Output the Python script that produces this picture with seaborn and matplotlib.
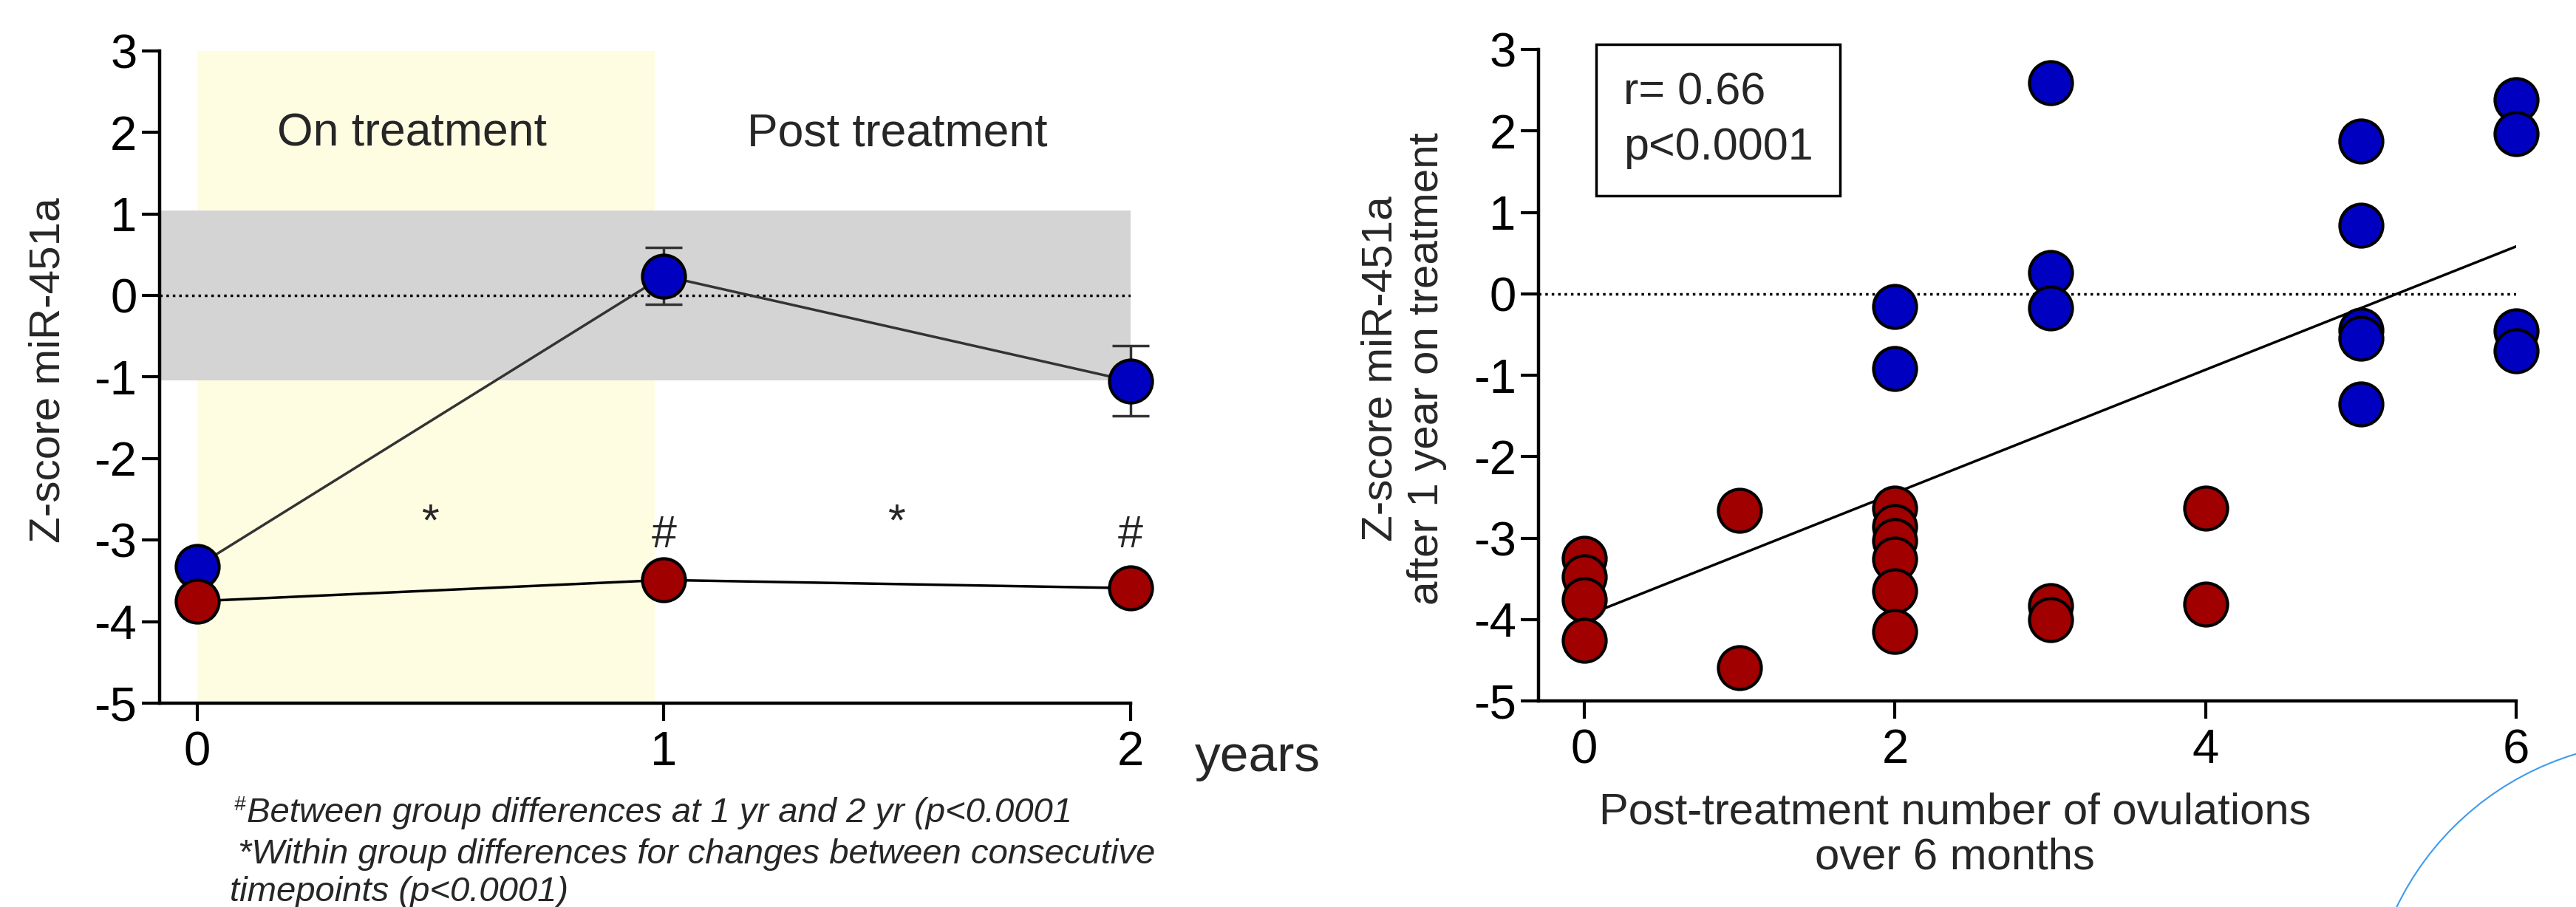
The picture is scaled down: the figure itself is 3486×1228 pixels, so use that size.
import numpy as np
import pandas as pd
import matplotlib
matplotlib.use("Agg")
import matplotlib.pyplot as plt
from matplotlib import font_manager
from matplotlib.patches import Circle
import seaborn as sns

# left panel: group means over time
years = [0, 1, 2]
blue_mean = [-3.32, 0.24, -1.05]
blue_err = [0.0, 0.35, 0.43]
red_mean = [-3.75, -3.49, -3.59]
ref_band = (-1.04, 1.04)
on_treatment = (0, 0.98)
star_x = [0.5, 1.5]
hash_x = [1, 2]

# right panel: individual values
ovul_blue = [2, 2, 3, 3, 3, 5, 5, 5, 5, 5, 6, 6, 6, 6]
z_blue = [-0.16, -0.92, 2.59, 0.26, -0.17, 1.88, 0.84, -0.45, -0.55, -1.35, 2.38, 1.97, -0.46, -0.70]
ovul_red = [0, 0, 0, 0, 1, 1, 2, 2, 2, 2, 2, 2, 3, 3, 4, 4]
z_red = [-3.25, -3.48, -3.76, -4.26, -2.66, -4.59, -2.63, -2.86, -3.03, -3.26, -3.65, -4.15,
         -3.83, -4.00, -2.63, -3.81]

BLUE = "#0000c0"
RED = "#a00000"

sns.set_style("ticks")
names = {f.name for f in font_manager.fontManager.ttflist}
narrow = "Liberation Sans Narrow" if "Liberation Sans Narrow" in names else "Liberation Sans"
plt.rcParams["font.family"] = [narrow, "DejaVu Sans"]
plt.rcParams["axes.unicode_minus"] = False

fig = plt.figure(figsize=(34.87, 12.28), dpi=100)
ax1 = fig.add_axes([0.0619, 0.2248, 0.3768, 0.7191])
ax2 = fig.add_axes([0.5971, 0.2272, 0.3794, 0.7182])

for ax in (ax1, ax2):
    sns.despine(ax=ax)
    for s in ("left", "bottom"):
        ax.spines[s].set_linewidth(3.2)
        ax.spines[s].set_color("black")
    ax.tick_params(width=3, length=17, labelsize=47, colors="black", pad=5)
    ax.tick_params(axis="x", pad=10)
    ax.set_ylim(-5, 3)
    ax.set_yticks(range(-5, 4))

# ---- left panel
ax1.axvspan(*on_treatment, color="#fffde1", zorder=0, lw=0)
ax1.axhspan(*ref_band, color="#d4d4d4", zorder=1, lw=0)
ax1.axhline(0, color="black", ls=(0, (1, 1.5)), lw=2.5, zorder=2)

df_left = pd.DataFrame({"year": years, "blue": blue_mean, "red": red_mean})
ax1.errorbar(years, blue_mean, yerr=blue_err, fmt="none", ecolor="#333333",
             elinewidth=2.5, capsize=18, capthick=2.5, zorder=3, clip_on=False)
sns.lineplot(data=df_left, x="year", y="blue", color="#333333", lw=2.5, ax=ax1, zorder=3)
sns.lineplot(data=df_left, x="year", y="red", color="black", lw=2.5, ax=ax1, zorder=3)
sns.scatterplot(data=df_left, x="year", y="blue", color=BLUE, s=1750, edgecolor="black",
                linewidth=3, ax=ax1, zorder=5, clip_on=False)
sns.scatterplot(data=df_left, x="year", y="red", color=RED, s=1750, edgecolor="black",
                linewidth=3, ax=ax1, zorder=5, clip_on=False)

for x in star_x:
    ax1.text(x, -2.8, "*", ha="center", va="center", fontsize=44)
for x in hash_x:
    ax1.text(x, -2.95, "#", ha="center", va="center", fontsize=44)
ax1.text(0.46, 1.98, "On treatment", ha="center", va="center", fontsize=45)
ax1.text(1.5, 1.98, "Post treatment", ha="center", va="center", fontsize=45)

ax1.set_xlim(-0.081, 2.0)
ax1.set_xticks(years)
ax1.set_xlabel("")
ax1.set_ylabel("Z-score miR-451a", fontsize=42, family=["Liberation Sans", "DejaVu Sans"])
ax1.yaxis.set_label_coords(-0.094, 0.51)
fig.text(1617 / 3487, 1 - 1026 / 1228, "years", fontsize=50, va="center", ha="left")

# ---- right panel
df_b = pd.DataFrame({"ovul": ovul_blue, "z": z_blue})
df_r = pd.DataFrame({"ovul": ovul_red, "z": z_red})
df_all = pd.concat([df_b, df_r], ignore_index=True)

ax2.axhline(0, color="black", ls=(0, (1, 1.5)), lw=2.5, zorder=1)
sns.regplot(data=df_all, x="ovul", y="z", scatter=False, ci=None, truncate=True,
            line_kws={"color": "black", "lw": 2.5, "zorder": 2}, ax=ax2)
sns.scatterplot(data=df_r, x="ovul", y="z", color=RED, s=1750, edgecolor="black",
                linewidth=3, ax=ax2, zorder=4, clip_on=False)
sns.scatterplot(data=df_b, x="ovul", y="z", color=BLUE, s=1750, edgecolor="black",
                linewidth=3, ax=ax2, zorder=4, clip_on=False)

ax2.text(0.25, 2.13, "r= 0.66\np<0.0001", ha="left", va="center", fontsize=44,
         linespacing=1.4,
         bbox=dict(boxstyle="square,pad=0.6", fc="white", ec="black", lw=2.5))

ax2.set_xlim(-0.295, 6)
ax2.set_xticks([0, 2, 4, 6])
ax2.set_xlabel("Post-treatment number of ovulations\nover 6 months", fontsize=43, linespacing=1.15)
ax2.xaxis.set_label_coords(0.426, -0.14)
ax2.set_ylabel("Z-score miR-451a\nafter 1 year on treatment", fontsize=42,
               family=["Liberation Sans", "DejaVu Sans"], linespacing=1.2)
ax2.yaxis.set_label_coords(-0.094, 0.51)

# ---- footnote
fn = dict(fontsize=34, fontstyle="italic", va="center", ha="left")
fig.text(316 / 3487, 1 - 1090 / 1228, "#", fontsize=20, fontstyle="italic", va="center")
fig.text(334 / 3487, 1 - 1101 / 1228, "Between group differences at 1 yr and 2 yr (p<0.0001", **fn)
fig.text(322 / 3487, 1 - 1157 / 1228, "*Within group differences for changes between consecutive", **fn)
fig.text(311 / 3487, 1 - 1208 / 1228, "timepoints (p<0.0001)", **fn)

# decorative arc in the corner
ov = fig.add_axes([0, 0, 1, 1], zorder=-1)
ov.set_xlim(0, 3487)
ov.set_ylim(1228, 0)
ov.axis("off")
ov.add_patch(Circle((3600, 1400), 396, fill=False, ec="#3d9bf0", lw=1.5))

fig.savefig("out.png", dpi=100, facecolor="white")
